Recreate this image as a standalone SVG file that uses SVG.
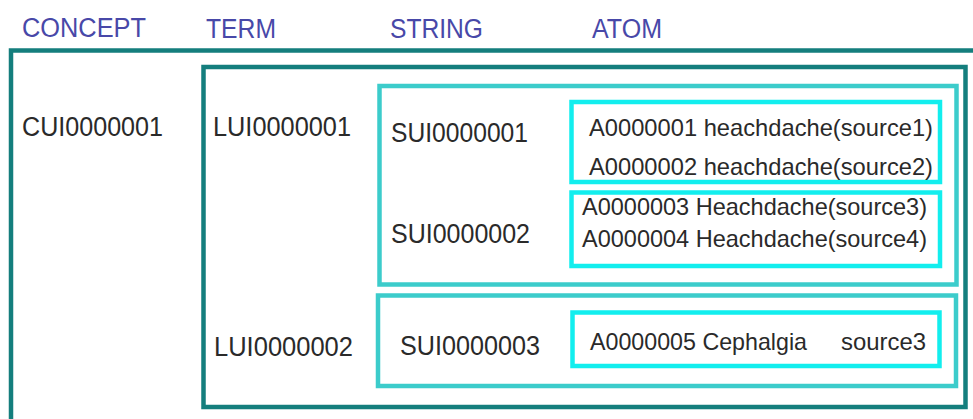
<svg xmlns="http://www.w3.org/2000/svg" width="973" height="419" viewBox="0 0 973 419">
<style>
  .hdr { font-family: "Liberation Sans", Arial, sans-serif; font-size: 27px; fill: #4848a8; }
  .lbl { font-family: "Liberation Sans", Arial, sans-serif; font-size: 27px; fill: #2a2a2a; }
  .atm { font-family: "Liberation Sans", Arial, sans-serif; font-size: 24px; fill: #2a2a2a; }
  .dark { fill: none; stroke: #147e7d; stroke-width: 4.5; }
  .mid { fill: none; stroke: #3ccccb; stroke-width: 4.5; }
  .cyan { fill: none; stroke: #12eeee; stroke-width: 4.5; }
</style>
<rect width="973" height="419" fill="#ffffff"/>
<g id="headers">
  <text class="hdr" x="22" y="37" textLength="124" lengthAdjust="spacingAndGlyphs">CONCEPT</text>
  <text class="hdr" x="206" y="38" textLength="70" lengthAdjust="spacingAndGlyphs">TERM</text>
  <text class="hdr" x="390" y="38" textLength="93" lengthAdjust="spacingAndGlyphs">STRING</text>
  <text class="hdr" x="592" y="38" textLength="70" lengthAdjust="spacingAndGlyphs">ATOM</text>
</g>
<g id="concept">
  <rect class="dark" x="11" y="50.5" width="980" height="400"/>
  <text class="lbl" x="22" y="136" textLength="141" lengthAdjust="spacingAndGlyphs">CUI0000001</text>
</g>
<g id="term">
  <rect class="dark" x="203.5" y="67" width="762" height="340"/>
  <text class="lbl" x="213" y="136" textLength="138" lengthAdjust="spacingAndGlyphs">LUI0000001</text>
  <text class="lbl" x="214" y="356" textLength="139" lengthAdjust="spacingAndGlyphs">LUI0000002</text>
</g>
<g id="string1">
  <rect class="mid" x="379.5" y="86" width="577" height="198.5"/>
  <text class="lbl" x="391" y="142" textLength="137" lengthAdjust="spacingAndGlyphs">SUI0000001</text>
  <text class="lbl" x="391" y="243" textLength="139" lengthAdjust="spacingAndGlyphs">SUI0000002</text>
</g>
<g id="string2">
  <rect class="mid" x="378" y="295.5" width="578" height="90.5"/>
  <text class="lbl" x="400" y="355" textLength="140" lengthAdjust="spacingAndGlyphs">SUI0000003</text>
</g>
<g id="atoms1">
  <rect class="cyan" x="571.5" y="102" width="368.5" height="80"/>
  <text class="atm" x="589" y="136" textLength="344" lengthAdjust="spacingAndGlyphs">A0000001 heachdache(source1)</text>
  <text class="atm" x="589" y="175" textLength="344" lengthAdjust="spacingAndGlyphs">A0000002 heachdache(source2)</text>
</g>
<g id="atoms2">
  <rect class="cyan" x="571.5" y="192.5" width="368.5" height="73.5"/>
  <text class="atm" x="582" y="215" textLength="345" lengthAdjust="spacingAndGlyphs">A0000003 Heachdache(source3)</text>
  <text class="atm" x="582" y="247" textLength="345" lengthAdjust="spacingAndGlyphs">A0000004 Heachdache(source4)</text>
</g>
<g id="atoms3">
  <rect class="cyan" x="572.5" y="312.5" width="367" height="53.5"/>
  <text class="atm" y="350"><tspan x="590" textLength="217" lengthAdjust="spacingAndGlyphs">A0000005 Cephalgia</tspan><tspan x="841" textLength="85" lengthAdjust="spacingAndGlyphs">source3</tspan></text>
</g>
<g id="connectors"></g>
</svg>
